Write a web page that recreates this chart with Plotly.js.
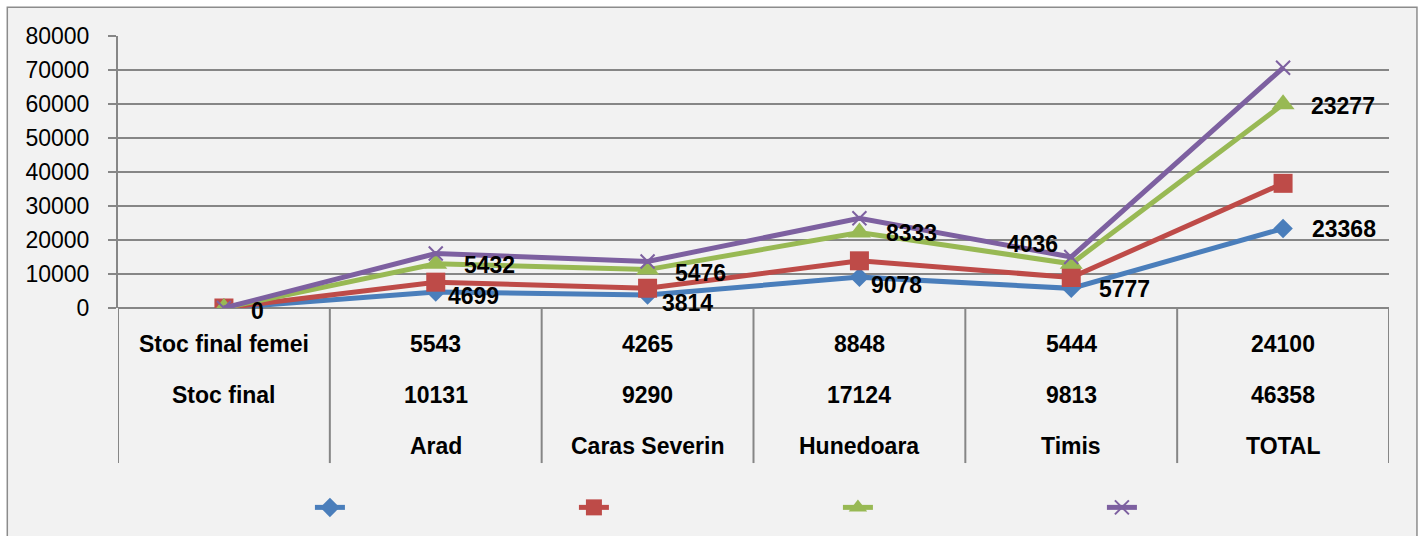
<!DOCTYPE html>
<html>
<head>
<meta charset="utf-8">
<script src="https://cdn.plot.ly/plotly-3.0.1.min.js"></script>
<style>
html, body { margin: 0; padding: 0; background: #ffffff; }
#chart { width: 1424px; height: 536px; }
</style>
</head>
<body>
<div id="chart"></div>
<script>
// ---- data ----
const categories = ["", "Arad", "Caras Severin", "Hunedoara", "Timis", "TOTAL"];
const rowNames = ["Stoc final femei", "Stoc final"];
const stocFinalFemei = [5543, 4265, 8848, 5444, 24100];
const stocFinal = [10131, 9290, 17124, 9813, 46358];
// stacked line series
const seriesBlue = [0, 4699, 3814, 9078, 5777, 23368];
const seriesRed = [0, 2900, 2000, 4800, 3200, 13300];
const seriesGreen = [0, 5432, 5476, 8333, 4036, 23277];
const seriesPurple = [0, 3000, 2400, 4200, 2000, 10700];
const yTickValues = [0, 10000, 20000, 30000, 40000, 50000, 60000, 70000, 80000];

// ---- styling ----
const FONT = '"Liberation Sans", Arial, sans-serif';
const GRID = '#868686';
const colors = { blue: '#4A7EBB', red: '#BE4B48', green: '#98B954', purple: '#7D60A0' };

const xIdx = categories.map((c, i) => i);

function trace(y, color, symbol, size, mline) {
  return {
    x: xIdx, y: y, type: 'scatter', mode: 'lines+markers',
    stackgroup: 'one', fill: 'none', name: ' ',
    line: { color: color, width: 5 },
    marker: { symbol: symbol, size: size, color: color, line: mline || { width: 0 } },
    hoverinfo: 'skip'
  };
}

const data = [
  trace(seriesBlue, colors.blue, 'diamond', 15),
  trace(seriesRed, colors.red, 'square', 19),
  trace(seriesGreen, colors.green, 'triangle-up', 20),
  trace(seriesPurple, colors.purple, 'x-thin-open', 14, { width: 2, color: colors.purple })
];

// cumulative levels for label placement
const cumBlue = seriesBlue.slice();
const cumGreen = seriesBlue.map((v, i) => v + seriesRed[i] + seriesGreen[i]);

// label offsets [xshift, yshift, anchor]
const blueLabelPos = [[25, -3, 'left'], [10, -4, 'left'], [12, -8, 'left'], [10, -8, 'left'], [26, -1, 'left'], [27, 0, 'left']];
const greenLabelPos = [null, [26, -1.5, 'left'], [25, -3, 'left'], [25, -1, 'left'], [-11, 20, 'right'], [26, -2, 'left']];

const annotations = [];
const labelFont = { family: FONT, size: 23, color: '#000000', weight: 'bold' };
seriesBlue.forEach((v, i) => {
  const p = blueLabelPos[i];
  annotations.push({ x: i, y: cumBlue[i], xref: 'x', yref: 'y', text: String(v), showarrow: false,
    xanchor: p[2], yanchor: 'middle', xshift: p[0], yshift: p[1], font: labelFont });
});
seriesGreen.forEach((v, i) => {
  const p = greenLabelPos[i];
  if (!p) return;
  annotations.push({ x: i, y: cumGreen[i], xref: 'x', yref: 'y', text: String(v), showarrow: false,
    xanchor: p[2], yanchor: 'middle', xshift: p[0], yshift: p[1], font: labelFont });
});

// data table under the axis
const tableFont = { family: FONT, size: 23, color: '#000000', weight: 'bold' };
const rowShifts = [-36, -87, -138];
const tableRows = [
  [rowNames[0]].concat(stocFinalFemei.map(String)),
  [rowNames[1]].concat(stocFinal.map(String)),
  categories
];
tableRows.forEach((row, r) => {
  row.forEach((txt, i) => {
    if (!txt) return;
    annotations.push({ x: i, y: 0, xref: 'x', yref: 'paper', text: txt, showarrow: false,
      xanchor: 'center', yanchor: 'middle', yshift: rowShifts[r], font: tableFont });
  });
});

const shapes = [
  { type: 'rect', xref: 'paper', yref: 'paper', x0: -0.0871, x1: 1.022, y0: -0.87, y1: 1.1055,
    fillcolor: '#F2F2F2', line: { color: '#8C8C8C', width: 1.5 }, layer: 'below' }
];
for (let i = 0; i <= categories.length; i++) {
  shapes.push({ type: 'line', xref: 'x', yref: 'paper', x0: i - 0.5, x1: i - 0.5, y0: 0, y1: -0.57,
    line: { color: GRID, width: 2 } });
}

const layout = {
  width: 1424, height: 536,
  margin: { l: 118, r: 35, t: 36, b: 228 },
  paper_bgcolor: '#FFFFFF',
  plot_bgcolor: 'rgba(0,0,0,0)',
  font: { family: FONT, size: 23, color: '#000000' },
  showlegend: true,
  legend: {
    orientation: 'h', x: 0.151, xanchor: 'left', y: -0.733, yanchor: 'middle',
    entrywidth: 219, entrywidthmode: 'pixels', font: { size: 10 },
    bgcolor: 'rgba(0,0,0,0)', traceorder: 'normal'
  },
  xaxis: {
    range: [-0.5, 5.5], showgrid: false, zeroline: false, showline: false,
    showticklabels: false, ticks: '', fixedrange: true
  },
  yaxis: {
    range: [0, 80000], tickvals: yTickValues, tickformat: 'd',
    showgrid: true, gridcolor: GRID, gridwidth: 2,
    zeroline: true, zerolinecolor: GRID, zerolinewidth: 2,
    showline: true, linecolor: GRID, linewidth: 2,
    ticks: 'outside', ticklen: 8, tickcolor: GRID, tickwidth: 2,
    ticklabelstandoff: 14,
    tickfont: { family: FONT, size: 23, color: '#000000' },
    fixedrange: true
  },
  annotations: annotations,
  shapes: shapes
};

Plotly.newPlot('chart', data, layout, { displayModeBar: false, staticPlot: true });
</script>
</body>
</html>
